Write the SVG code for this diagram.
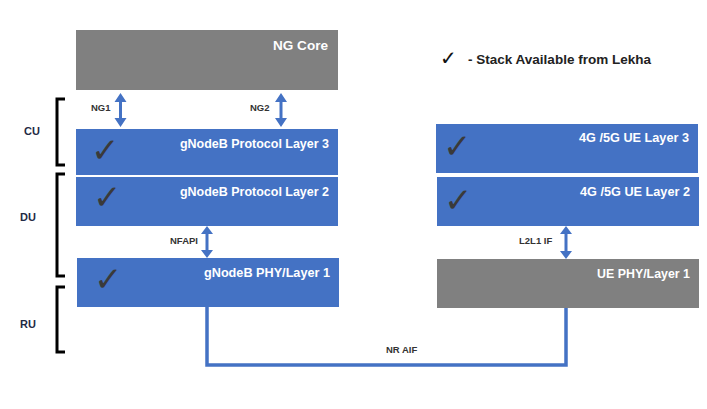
<svg xmlns="http://www.w3.org/2000/svg" width="707" height="409" viewBox="0 0 707 409">
<style>
.blue{fill:#4472C4}
.gray{fill:#808080}
.title{font-family:"Liberation Sans",Arial,sans-serif;font-weight:bold;font-size:13.5px;fill:#ffffff;text-anchor:end}
.lbl{font-family:"Liberation Sans",Arial,sans-serif;font-weight:bold;font-size:9.5px;fill:#333333}
.side{font-family:"Liberation Sans",Arial,sans-serif;font-weight:bold;font-size:11px;fill:#1f2a44}
.chk{font-family:"DejaVu Sans",sans-serif;font-size:34px;fill:#3a3a3a}
.br{fill:none;stroke:#000;stroke-width:3}
.ar{fill:#4472C4}
</style>
<rect width="707" height="409" fill="#ffffff"/>

<g id="ng-core"><rect class="gray" x="76" y="30" width="262" height="60"/><text class="title" x="328" y="50" textLength="55" lengthAdjust="spacingAndGlyphs">NG Core</text></g>
<g id="gnb-l3"><rect class="blue" x="76" y="129" width="262" height="46"/><text class="title" x="329" y="148" textLength="149" lengthAdjust="spacingAndGlyphs">gNodeB Protocol Layer 3</text><text class="chk" x="91" y="162">✓</text></g>
<g id="gnb-l2"><rect class="blue" x="76" y="177" width="262" height="49"/><text class="title" x="329" y="196" textLength="149" lengthAdjust="spacingAndGlyphs">gNodeB Protocol Layer 2</text><text class="chk" x="93" y="209">✓</text></g>
<g id="gnb-phy"><rect class="blue" x="77" y="258" width="262" height="49"/><text class="title" x="330" y="277" textLength="126" lengthAdjust="spacingAndGlyphs">gNodeB PHY/Layer 1</text><text class="chk" x="94" y="291">✓</text></g>
<g id="ue-l3"><rect class="blue" x="436" y="124" width="262" height="49"/><text class="title" x="689" y="142" textLength="110" lengthAdjust="spacingAndGlyphs">4G /5G UE Layer 3</text><text class="chk" x="443" y="158">✓</text></g>
<g id="ue-l2"><rect class="blue" x="437" y="177" width="262" height="49"/><text class="title" x="690" y="196" textLength="110" lengthAdjust="spacingAndGlyphs">4G /5G UE Layer 2</text><text class="chk" x="444" y="212">✓</text></g>
<g id="ue-phy"><rect class="gray" x="437" y="259" width="262" height="49"/><text class="title" x="690" y="278" textLength="93" lengthAdjust="spacingAndGlyphs">UE PHY/Layer 1</text></g>

<g id="legend"><text x="440" y="65" font-family="DejaVu Sans,sans-serif" font-weight="bold" font-size="20" fill="#111">✓</text><text x="468" y="64" font-family="Liberation Sans,Arial,sans-serif" font-weight="bold" font-size="13.5" fill="#222" textLength="183" lengthAdjust="spacingAndGlyphs">- Stack Available from Lekha</text></g>

<g id="cu"><path class="br" d="M65,99 H57 V165 H65"/><text class="side" x="24" y="135">CU</text></g>
<g id="du"><path class="br" d="M65,174 H57 V276 H65"/><text class="side" x="20" y="221">DU</text></g>
<g id="ru"><path class="br" d="M65,287 H57 V352 H65"/><text class="side" x="20" y="328">RU</text></g>

<g id="connectors">
<polygon class="ar" points="120.5,93 126.5,102 122,102 122,118 126.5,118 120.5,127 114.5,118 119,118 119,102 114.5,102"/>
<polygon class="ar" points="281,93 287,102 282.5,102 282.5,118 287,118 281,127 275,118 279.5,118 279.5,102 275,102"/>
<polygon class="ar" points="207,226 213,234 208.5,234 208.5,250 213,250 207,258 201,250 205.5,250 205.5,234 201,234"/>
<polygon class="ar" points="566,226 572,234 567.5,234 567.5,251 572,251 566,259 560,251 564.5,251 564.5,234 560,234"/>
<path d="M207,307 V365 H566 V308" fill="none" stroke="#4472C4" stroke-width="3.5"/>
<text class="lbl" x="91" y="111">NG1</text>
<text class="lbl" x="250" y="111">NG2</text>
<text class="lbl" x="170" y="244">NFAPI</text>
<text class="lbl" x="519" y="244">L2L1 IF</text>
<text class="lbl" x="386" y="353">NR AIF</text>
</g>
</svg>
